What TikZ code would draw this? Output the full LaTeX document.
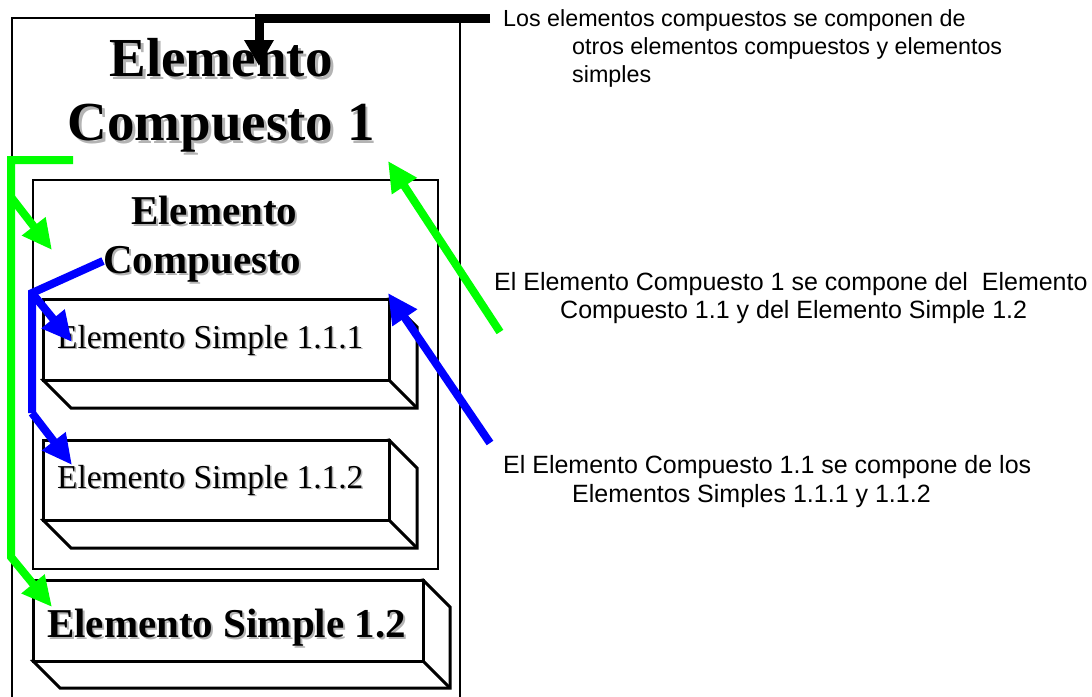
\documentclass[tikz,border=0pt]{standalone}
\usepackage{fontspec}
\setmainfont{Liberation Serif}
\newfontfamily\arialfont{Liberation Sans}
\usetikzlibrary{arrows.meta}
\definecolor{pgreen}{RGB}{0,255,0}
\definecolor{pblue}{RGB}{0,0,255}
\definecolor{shadegray}{RGB}{180,180,180}
% text with a soft grey drop shadow
\newcommand{\shd}[2][2pt]{\rlap{\kern#1\raisebox{-#1}{\textcolor{shadegray}{#2}}}#2}
% a bevelled slab: front face (x1,y1)-(x2,y2), depth d
\newcommand{\slab}[5]{%
  \draw[face] (#3,#2) -- (#3+#5,#2+#5) -- (#3+#5,#4+#5) -- (#1+#5,#4+#5) -- (#1,#4) -- cycle;
  \draw[face] (#3,#4) -- (#3+#5,#4+#5);
  \draw[face] (#1,#2) rectangle (#3,#4);
}
\begin{document}
\begin{tikzpicture}[x=1pt,y=-1pt,
  frame/.style={draw=black,line width=2pt},
  face/.style={draw=black,line width=3pt,line join=miter,fill=white},
  lbl/.style={inner sep=0pt,anchor=base west},
  note/.style={lbl,font=\arialfont\fontsize{25}{28}\selectfont},
  topnote/.style={lbl,font=\arialfont\fontsize{23.3}{28}\selectfont},
  hugebold/.style={inner sep=0pt,anchor=base,align=center,font=\bfseries\fontsize{55}{64}\selectfont},
  midbold/.style={lbl,font=\bfseries\fontsize{41}{49}\selectfont},
  plain/.style={lbl,font=\fontsize{33.4}{40}\selectfont},
  link/.style={line width=8pt},
  tip/.style={-{Triangle[length=30pt,width=28pt]}}
]
\useasboundingbox (0,0) rectangle (1092,696);
\clip (0,0) rectangle (1092,696);

% outer and inner containers
\draw[frame] (12,18) rectangle (460,720);
\draw[frame] (33,180) rectangle (438,569);

% simple elements as slabs
\slab{43}{299}{389}{380}{28}
\slab{43}{440}{389}{520}{28}
\slab{33}{580}{423}{661}{27}

% titles
\node[hugebold] (ec1) at (221,140) {\shd[3pt]{Elemento}\\\shd[3pt]{Compuesto 1}};
\node[midbold] (ec11a) at (131,224) {\shd{Elemento}};
\node[midbold] (ec11b) at (103,273) {\shd{Compuesto}};
\node[plain] (es111) at (57,348) {\shd[1.5pt]{Elemento Simple 1.1.1}};
\node[plain] (es112) at (57,488) {\shd[1.5pt]{Elemento Simple 1.1.2}};
\node[midbold] (es12) at (47,637) {\shd{Elemento Simple 1.2}};

% explanatory notes
\node[topnote] (n1a) at (503,26) {Los elementos compuestos se componen de};
\node[topnote] (n1b) at (572,54) {otros elementos compuestos y elementos};
\node[topnote] (n1c) at (572,82) {simples};
\node[note] (n2a) at (494,290) {El Elemento Compuesto 1 se compone del\ \ Elemento};
\node[note] (n2b) at (560,318) {Compuesto 1.1 y del Elemento Simple 1.2};
\node[note] (n3a) at (503,473) {El Elemento Compuesto 1.1 se compone de los};
\node[note] (n3b) at (572,502) {Elementos Simples 1.1.1 y 1.1.2};

% connector anchor points
\coordinate (kStart) at (490,18);
\coordinate (kBend) at (259,18);
\coordinate (kEnd) at (259,66);
\coordinate (gStart) at (73,160);
\coordinate (gCorner) at (11,160);
\coordinate (gFork) at (11,197);
\coordinate (gBend) at (11,557);
\coordinate (gTipA) at (52,250);
\coordinate (gTipB) at (52,607);
\coordinate (gFar) at (500,332);
\coordinate (gTipC) at (388,161);
\coordinate (bStart) at (103,261);
\coordinate (bFork) at (32,293);
\coordinate (bBend) at (32,413);
\coordinate (bTipA) at (72,342);
\coordinate (bTipB) at (72,465);
\coordinate (bFar) at (490,443);
\coordinate (bTipC) at (388,293);

% black pointer to the general note
\draw[line width=9pt,-{Triangle[length=26pt,width=28pt]}] (kStart) -- (kBend) -- (kEnd);

% green: composition of Elemento Compuesto 1
\draw[pgreen,link,tip] (gStart) -- (gCorner) -- (gBend) -- (gTipB);
\draw[pgreen,link,tip] (gFork) -- (gTipA);
\draw[pgreen,link,tip] (gFar) -- (gTipC);

% blue: composition of Elemento Compuesto 1.1
\draw[pblue,link] (bStart) -- (bFork) -- (bBend);
\draw[pblue,link,tip] (bFork) -- (bTipA);
\draw[pblue,link,tip] (bBend) -- (bTipB);
\draw[pblue,link,tip] (bFar) -- (bTipC);
\end{tikzpicture}
\end{document}
